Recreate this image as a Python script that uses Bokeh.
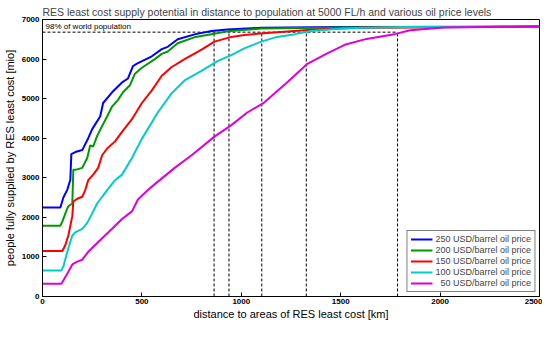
from bokeh.plotting import figure
from bokeh.models import Legend, LegendItem
from bokeh.embed import file_html
from bokeh.resources import INLINE

# ---- data ----
blue_x = [0, 90, 105, 125, 140, 145, 165, 200, 230, 250, 290, 305, 350, 400, 430, 455, 480, 550, 600, 630, 680, 770, 850, 930, 1100, 1500, 2500]
blue_y = [2250, 2250, 2500, 2700, 2950, 3600, 3650, 3700, 4000, 4230, 4550, 4890, 5160, 5410, 5510, 5820, 5900, 6070, 6250, 6310, 6500, 6630, 6710, 6750, 6790, 6810, 6820]

green_x = [0, 90, 100, 125, 130, 150, 155, 165, 200, 225, 240, 255, 275, 300, 325, 350, 380, 405, 440, 465, 500, 565, 600, 630, 680, 770, 850, 930, 1100, 1500, 2500]
green_y = [1790, 1790, 1900, 2230, 2280, 2350, 3200, 3200, 3250, 3500, 3820, 3790, 4060, 4310, 4550, 4800, 4970, 5160, 5340, 5630, 5780, 6000, 6130, 6190, 6400, 6560, 6630, 6700, 6770, 6800, 6820]

red_x = [0, 100, 115, 130, 150, 155, 175, 200, 215, 230, 255, 280, 300, 325, 365, 400, 450, 500, 550, 600, 650, 715, 800, 865, 950, 1015, 1180, 1350, 1600, 2500]
red_y = [1150, 1150, 1300, 1540, 2030, 2400, 2470, 2520, 2690, 2940, 3080, 3250, 3570, 3740, 3920, 4160, 4480, 4890, 5210, 5580, 5800, 6000, 6240, 6440, 6560, 6610, 6680, 6740, 6790, 6820]

cyan_x = [0, 95, 105, 130, 150, 165, 200, 225, 250, 275, 300, 330, 365, 400, 450, 500, 515, 580, 650, 715, 800, 880, 950, 1015, 1100, 1180, 1270, 1350, 1520, 1800, 2500]
cyan_y = [660, 660, 760, 1220, 1540, 1620, 1710, 1860, 2100, 2350, 2520, 2720, 2940, 3080, 3500, 3990, 4110, 4650, 5140, 5460, 5700, 5950, 6100, 6270, 6440, 6560, 6630, 6710, 6780, 6810, 6820]

magenta_x = [0, 95, 115, 150, 175, 200, 230, 265, 300, 350, 400, 450, 480, 530, 565, 665, 750, 865, 950, 1030, 1115, 1230, 1330, 1430, 1520, 1630, 1770, 1850, 2020, 2500]
magenta_y = [320, 320, 490, 810, 880, 930, 1130, 1300, 1470, 1710, 1960, 2150, 2450, 2690, 2840, 3250, 3570, 4040, 4330, 4650, 4900, 5410, 5870, 6140, 6360, 6510, 6630, 6730, 6800, 6820]

series_labels = ["250 USD/barrel oil price", "200 USD/barrel oil price", "150 USD/barrel oil price",
                 "100 USD/barrel oil price", "\u200750 USD/barrel oil price"]

# distance at which each price level supplies 98% of world population
reach_98 = [863, 938, 1103, 1327, 1786]
pop_98 = 6680
ref_label = "98% of world population"

x_ticks = [0, 500, 1000, 1500, 2000, 2500]
y_ticks = [0, 1000, 2000, 3000, 4000, 5000, 6000, 7000]

FONT = "Liberation Sans"

p = figure(width=542, height=322, output_backend="svg", toolbar_location=None,
           x_range=(0, 2500), y_range=(0, 7000),
           title="RES least cost supply potential in distance to population at 5000 FL/h and various oil price levels",
           min_border_left=39, min_border_right=3, min_border_top=19, min_border_bottom=20)

p.title.text_font = FONT
p.title.text_font_size = "10.5px"
p.title.text_font_style = "normal"
p.title.align = "left"
p.title.standoff = 3
p.title.offset = 0

p.xgrid.visible = False
p.ygrid.visible = False
p.outline_line_color = "black"
p.outline_line_width = 1
p.background_fill_color = "white"

for ax in (p.xaxis[0], p.yaxis[0]):
    ax.major_tick_in = 4
    ax.major_tick_out = 0
    ax.minor_tick_line_color = None
    ax.axis_line_color = "black"
    ax.major_label_text_font = FONT
    ax.major_label_text_font_size = "8px"
    ax.major_label_text_font_style = "bold"
    ax.major_label_text_color = "black"
    ax.axis_label_text_font = FONT
    ax.axis_label_text_font_size = "11px"
    ax.axis_label_text_font_style = "normal"
    ax.axis_label_text_color = "black"

p.xaxis.ticker = x_ticks
p.yaxis.ticker = y_ticks
p.xaxis.axis_label = "distance to areas of RES least cost [km]"
p.yaxis.axis_label = "people fully supplied by RES least cost [mio]"
p.xaxis.major_label_standoff = 2
p.xaxis.axis_label_standoff = 1
p.yaxis.major_label_standoff = 3
p.yaxis.axis_label_standoff = 3

# reference lines (98% of world population)
p.line([0, max(reach_98)], [pop_98, pop_98], line_color="black", line_width=1, line_dash="3 2")
for r in reach_98:
    p.line([r, r], [0, pop_98], line_color="black", line_width=1, line_dash="3 2")
p.text(x=[15], y=[pop_98 + 40], text=[ref_label], text_font_size="8px",
       text_baseline="bottom", text_color="black", text_font={"value": FONT})

colors = ["#0000ff", "#009a00", "#ff0000", "#00cccc", "#dd00dd"]
xs = [blue_x, green_x, red_x, cyan_x, magenta_x]
ys = [blue_y, green_y, red_y, cyan_y, magenta_y]

items = []
for x, y, c, lab in zip(xs, ys, colors, series_labels):
    r = p.line(x, y, line_color=c, line_width=2)
    items.append(LegendItem(label=lab, renderers=[r]))

legend = Legend(items=items, location="bottom_right")
legend.label_text_font = FONT
legend.label_text_font_size = "9px"
legend.label_height = 10
legend.glyph_height = 10
legend.glyph_width = 22
legend.label_standoff = 3
legend.spacing = 1
legend.padding = 3
legend.margin = 4
legend.border_line_color = "black"
legend.border_line_width = 1
legend.background_fill_alpha = 1
p.add_layout(legend)

open("out.html", "w").write(file_html(p, INLINE))
